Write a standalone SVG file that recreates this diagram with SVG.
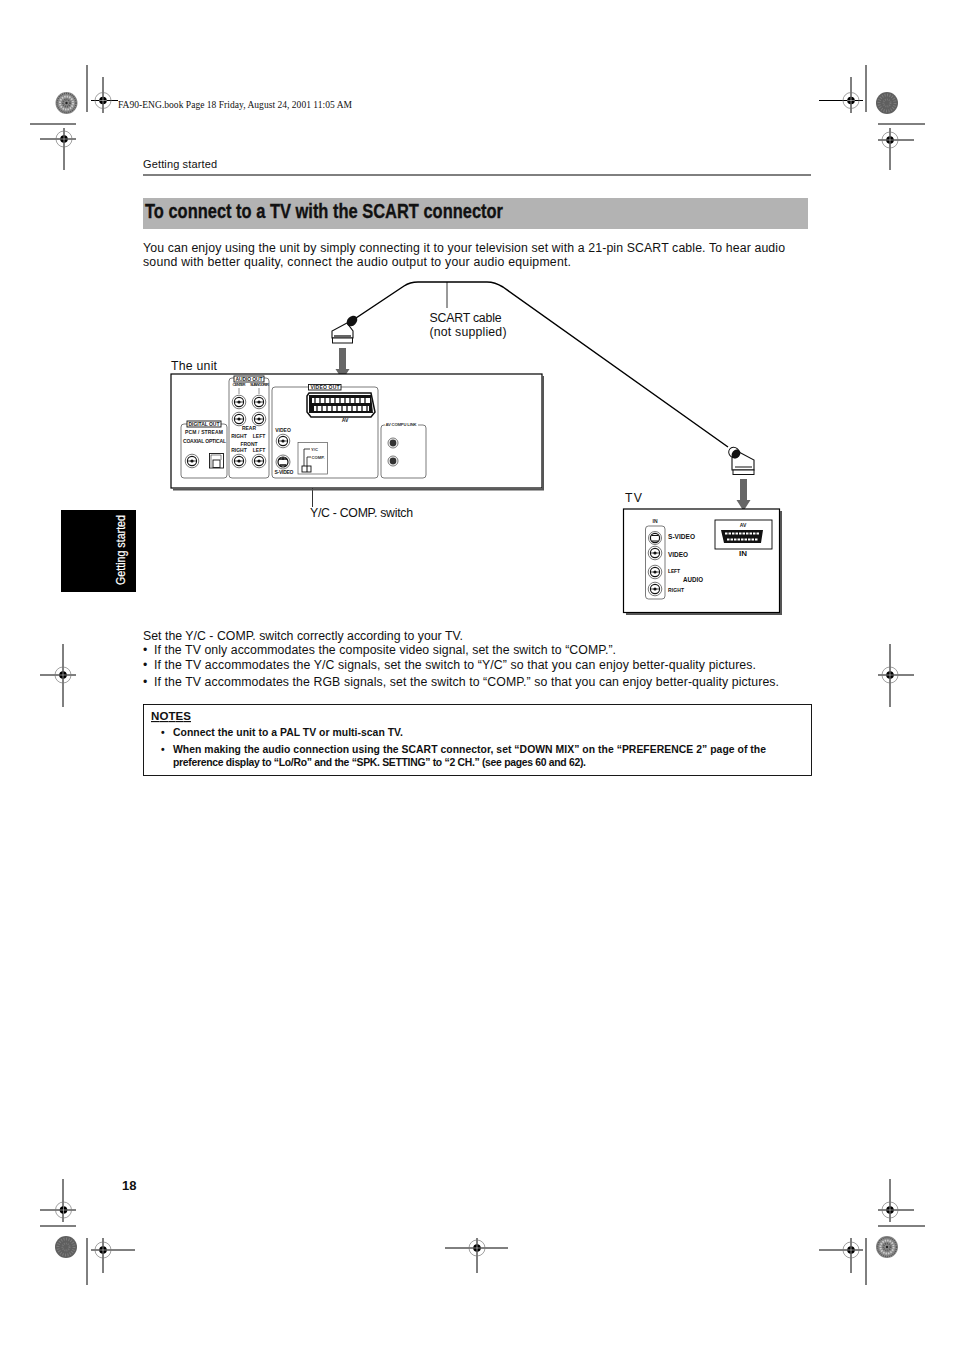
<svg xmlns="http://www.w3.org/2000/svg" xmlns:xlink="http://www.w3.org/1999/xlink" width="954" height="1351" viewBox="0 0 954 1351">
<style>
text{font-family:"Liberation Sans",Arial,sans-serif;fill:#111}
.b{font-size:12.3px}
.n{font-size:10.4px;font-weight:bold}
.t{font-size:5px;font-weight:bold;fill:#222}
.c{font-size:4.200px;font-weight:bold;fill:#333}
.m{text-anchor:middle}
.g{fill:none;stroke:#444;stroke-width:.7}
.k{fill:#fff;stroke:#111;stroke-width:.9}
.cm{stroke:#000;stroke-width:1;fill:none}
</style>
<defs>
<g id="reg"><circle r="8" fill="none" stroke="#777" stroke-width=".7"/><circle r="3.800" fill="#000"/><path d="M-3.800 0H3.800M0-3.800V3.800" stroke="#fff" stroke-width=".5"/></g>
<g id="jack"><circle r="6.800" fill="#fff" stroke="#555" stroke-width=".8"/><circle r="4.600" fill="#fff" stroke="#111" stroke-width="1.100"/><circle r="1.600" fill="#111"/><path d="M-4.400 0H4.400" stroke="#111" stroke-width=".8"/></g>
<g id="arrow"><path d="M-3.500 0H3.500V21H7L0 32L-7 21H-3.500Z" fill="#666"/></g>
<g id="disc-a"><circle r="11" fill="#8a8a8a"/><circle r="9.500" fill="none" stroke="#555" stroke-width="1.500" stroke-dasharray="1 1"/><circle r="6.500" fill="none" stroke="#ccc" stroke-width="2" stroke-dasharray="1.500 1"/><circle r="3.500" fill="none" stroke="#555" stroke-width="2" stroke-dasharray="1 1"/><circle r="1.200" fill="#222"/></g>
<g id="disc-b"><circle r="11" fill="#5f5f5f"/><circle r="8" fill="none" stroke="#7c7c7c" stroke-width="3" stroke-dasharray="1 1.500"/><circle r="3.500" fill="none" stroke="#777" stroke-width="2" stroke-dasharray="1 1"/></g>
</defs>
<rect width="954" height="1351" fill="#fff"/>
<g id="crop-marks">
<path class="cm" d="M87 65V112M91 100.500H118M103 77V113M30 124H76M40 139H76M64 128V170M866 65V112M819 100.500H863M851 77V113M878 124H925M878 140H914M890 128V170M40 675H76M63 644V707M878 675H914M890 644V707M40 1210H76M63 1179V1222M40 1226H76M87 1238V1285M91 1250H135M103 1238V1273M445 1248H508M477 1238V1273M819 1250H863M851 1238V1273M866 1238V1285M878 1210H914M890 1179V1222M878 1226H925"/>
<use xlink:href="#reg" x="103" y="100.500"/><use xlink:href="#reg" x="64" y="139"/><use xlink:href="#reg" x="851" y="100.500"/><use xlink:href="#reg" x="890" y="140"/><use xlink:href="#reg" x="63" y="675"/><use xlink:href="#reg" x="890" y="675"/><use xlink:href="#reg" x="63.500" y="1210"/><use xlink:href="#reg" x="103" y="1250"/><use xlink:href="#reg" x="477" y="1248"/><use xlink:href="#reg" x="851" y="1250"/><use xlink:href="#reg" x="890" y="1210"/>
<use xlink:href="#disc-a" x="66.500" y="103"/><use xlink:href="#disc-b" x="887" y="103"/><use xlink:href="#disc-b" x="66" y="1247"/><use xlink:href="#disc-a" x="887" y="1247"/>
</g>
<g id="page">
<text x="118" y="108" textLength="234" style='font-family:"Liberation Serif",serif;font-size:9.500px'>FA90-ENG.book  Page 18  Friday, August 24, 2001  11:05 AM</text>
<text x="143" y="168" textLength="74" style="font-size:11px">Getting started</text>
<path d="M143 175H811" stroke="#000" stroke-width="1"/>
<rect x="143" y="198" width="665" height="31" fill="#b3b3b3"/>
<text x="145" y="218" style="font-size:20.500px;font-weight:bold;stroke:#111;stroke-width:.35" textLength="358" lengthAdjust="spacingAndGlyphs">To connect to a TV with the SCART connector</text>
<text class="b" x="143" y="252" textLength="642">You can enjoy using the unit by simply connecting it to your television set with a 21-pin SCART cable. To hear audio</text>
<text class="b" x="143" y="266" textLength="428">sound with better quality, connect the audio output to your audio equipment.</text>
<rect x="61" y="510" width="75" height="82" fill="#000"/>
<text transform="translate(125,585) rotate(-90)" style="font-size:12px;fill:#fff;stroke:#fff;stroke-width:.2" textLength="70" lengthAdjust="spacingAndGlyphs">Getting started</text>
<text x="122" y="1190" style="font-size:13px;font-weight:bold">18</text>
</g>
<g id="connectors">
<path d="M356 318L404 286Q410 282 418 282H487Q495 282 503 287L728 447" fill="none" stroke="#000" stroke-width="1.500"/>
<path d="M447 282V308M312.500 474V507" stroke="#000" stroke-width=".8"/>
<use xlink:href="#arrow" x="342.500" y="348"/>
<use xlink:href="#arrow" x="743.500" y="479"/>
<g id="plug-unit">
<path d="M332 338V331L347 323L353 331V338Z" fill="#fff" stroke="#111" stroke-width="1.100"/>
<rect x="332.500" y="338" width="20" height="5" fill="#fff" stroke="#111" stroke-width="1"/>
<path d="M334 336H351" stroke="#666" stroke-width="2"/>
<ellipse cx="352" cy="321" rx="6" ry="4.500" transform="rotate(-45 352 321)" fill="#111"/>
</g>
<g id="plug-tv">
<path d="M732 470V458L737 451L754 460V470Z" fill="#fff" stroke="#111" stroke-width="1.100"/>
<rect x="733" y="470" width="21" height="4.500" fill="#fff" stroke="#111" stroke-width="1"/>
<path d="M735 467H752" stroke="#888" stroke-width="2"/>
<ellipse cx="734" cy="452.500" rx="5.500" ry="5" transform="rotate(40 734 452.500)" fill="#fff" stroke="#111"/>
<ellipse cx="736" cy="454" rx="4" ry="5" transform="rotate(40 736 454)" fill="#111"/>
</g>
</g>
<g id="unit">
<text x="171" y="370" textLength="46" style="font-size:12.300px">The unit</text>
<rect x="171" y="374" width="371" height="114" fill="#fff" stroke="#000" stroke-width="1.200"/>
<path d="M543 376V489.500H173" fill="none" stroke="#555" stroke-width="2"/>
<rect class="g" x="181" y="424" width="46" height="54" rx="3"/><rect class="g" x="229" y="378" width="40" height="100" rx="3"/><rect class="g" x="272" y="387" width="106" height="91" rx="3"/><rect class="g" x="381" y="425" width="45" height="53" rx="3"/>
<rect x="187" y="421" width="34" height="6" class="k"/><text class="t m" x="204" y="426" textLength="31">DIGITAL OUT</text>
<text class="t m" x="204" y="433.500" textLength="38">PCM / STREAM</text><text class="t m" x="204.500" y="442.500" textLength="43">COAXIAL OPTICAL</text>
<use xlink:href="#jack" x="192" y="461"/>
<rect x="209.500" y="453.500" width="14" height="14.500" class="k"/><rect x="213" y="460" width="7" height="7.500" class="k"/><path d="M211 455V467M211 455H221V460" fill="none" stroke="#333" stroke-width=".6"/>
<rect x="234" y="376" width="30" height="6" class="k"/><text class="t m" x="249" y="381" textLength="27">AUDIO OUT</text>
<text class="c m" x="239" y="386" textLength="13">CENTER</text><text class="c m" x="259.500" y="386" textLength="19">SUBWOOFER</text>
<path d="M239 388V394M259 388V394" stroke="#444" stroke-width=".6"/>
<use xlink:href="#jack" x="239" y="402"/><use xlink:href="#jack" x="259" y="402"/><use xlink:href="#jack" x="239" y="419"/><use xlink:href="#jack" x="259" y="419"/>
<text class="t m" x="249" y="430">REAR</text><text class="t m" x="239" y="437.500">RIGHT</text><text class="t m" x="259" y="437.500">LEFT</text>
<text class="t m" x="249" y="445.500">FRONT</text><text class="t m" x="239" y="452">RIGHT</text><text class="t m" x="259" y="452">LEFT</text>
<use xlink:href="#jack" x="239" y="461"/><use xlink:href="#jack" x="259" y="461"/>
<rect x="308.500" y="384.500" width="32.500" height="5.500" class="k"/><text class="t m" x="325" y="389.300" textLength="29">VIDEO OUT</text>
<path d="M309 393H371L375 412L371 417H311L307 412V396Z" fill="#fff" stroke="#111" stroke-width="1.500"/>
<path d="M309 395H371L373 413H309Z" fill="#111"/>
<rect x="312" y="398" width="58" height="5" fill="#fff"/><rect x="314" y="406" width="55" height="5" fill="#fff"/>
<path d="M315 398V403M320 398V403M325 398V403M330 398V403M335 398V403M340 398V403M345 398V403M350 398V403M355 398V403M360 398V403M365 398V403M317 406V411M322 406V411M327 406V411M332 406V411M337 406V411M342 406V411M347 406V411M352 406V411M357 406V411M362 406V411M367 406V411" stroke="#111" stroke-width="1.300"/>
<text class="t m" x="345" y="422">AV</text>
<text class="t m" x="283" y="431.500">VIDEO</text><use xlink:href="#jack" x="283" y="441"/>
<circle cx="283" cy="462" r="7" fill="#fff" stroke="#555" stroke-width=".8"/><circle cx="283" cy="462" r="5" fill="#fff" stroke="#111" stroke-width="1.200"/><path d="M279 459H287M280 465H286M283 457V460" stroke="#111" stroke-width="1.300"/>
<text class="t m" x="284" y="473.500" textLength="19">S-VIDEO</text>
<rect x="298" y="442.500" width="29.500" height="31.500" fill="#fff" stroke="#555" stroke-width=".7"/>
<path d="M304 466V449H310M307 466V457H311" fill="none" stroke="#111" stroke-width=".8"/>
<text class="c" x="311" y="451">Y/C</text><text class="c" x="311.500" y="458.500">COMP.</text>
<rect x="302" y="466" width="9" height="6" class="k"/><path d="M307 466V472" stroke="#111"/>
<rect x="385" y="421" width="33" height="6" fill="#fff"/><text class="c m" x="401" y="426" textLength="31">AV COMPU LINK</text>
<circle cx="393" cy="443" r="5" fill="#fff" stroke="#555" stroke-width=".8"/><circle cx="393" cy="443" r="3.400" fill="#333"/>
<circle cx="393" cy="461" r="5" fill="#fff" stroke="#555" stroke-width=".8"/><circle cx="393" cy="461" r="3.400" fill="#333"/>
</g>
<g id="labels">
<text class="b" x="429.500" y="322" textLength="72">SCART cable</text>
<text class="b" x="429.500" y="336" textLength="77">(not supplied)</text>
<text class="b" x="310" y="517" textLength="103">Y/C - COMP. switch</text>
<text class="b" x="625" y="502" textLength="17">T V</text>
</g>
<g id="tv">
<rect x="623.500" y="509" width="156" height="103.500" fill="#fff" stroke="#000" stroke-width="1.200"/>
<path d="M781 511V614H626" fill="none" stroke="#555" stroke-width="2"/>
<rect x="715" y="520" width="57" height="29" fill="#fff" stroke="#000" stroke-width=".9"/>
<text class="t m" x="743" y="527">AV</text>
<path d="M721 530H763L761 543H724Z" fill="#111"/>
<path d="M725 533.500H760M727 539.500H758" stroke="#fff" stroke-width="2" stroke-dasharray="2.500 1"/>
<text class="m" x="743" y="556" textLength="8" lengthAdjust="spacingAndGlyphs" style="font-size:8px;font-weight:bold">IN</text>
<text class="t m" x="655" y="523">IN</text>
<rect x="645.500" y="526" width="19.500" height="73" rx="3" fill="#fff" stroke="#444" stroke-width=".7"/>
<circle cx="655" cy="538" r="6.500" fill="#fff" stroke="#555" stroke-width=".8"/><circle cx="655" cy="538" r="4.600" fill="#fff" stroke="#111" stroke-width="1.200"/><path d="M651.500 535.500H658.500M652 541H658" stroke="#111" stroke-width="1.200"/>
<use xlink:href="#jack" x="655" y="553"/><use xlink:href="#jack" x="655" y="572"/><use xlink:href="#jack" x="655" y="589"/>
<text x="668" y="538.500" textLength="27" lengthAdjust="spacingAndGlyphs" style="font-size:7px;font-weight:bold">S-VIDEO</text>
<text x="668" y="556.500" textLength="20" lengthAdjust="spacingAndGlyphs" style="font-size:7px;font-weight:bold">VIDEO</text>
<text x="668" y="572.500" textLength="12" style="font-size:5px;font-weight:bold">LEFT</text>
<text x="683" y="581.500" textLength="20" lengthAdjust="spacingAndGlyphs" style="font-size:7px;font-weight:bold">AUDIO</text>
<text x="668" y="591.500" textLength="16" style="font-size:5px;font-weight:bold">RIGHT</text>
</g>
<g id="instructions">
<text class="b" x="143" y="640" textLength="320">Set the Y/C - COMP. switch correctly according to your TV.</text>
<text class="b" x="143" y="654">•</text><text class="b" x="154" y="654" textLength="462">If the TV only accommodates the composite video signal, set the switch to “COMP.”.</text>
<text class="b" x="143" y="669">•</text><text class="b" x="154" y="669" textLength="602">If the TV accommodates the Y/C signals, set the switch to “Y/C” so that you can enjoy better-quality pictures.</text>
<text class="b" x="143" y="686">•</text><text class="b" x="154" y="686" textLength="625">If the TV accommodates the RGB signals, set the switch to “COMP.” so that you can enjoy better-quality pictures.</text>
</g>
<g id="notes">
<rect x="143.500" y="704.500" width="668" height="71" fill="#fff" stroke="#000" stroke-width=".9"/>
<text x="151" y="720" textLength="40" style="font-size:11.500px;font-weight:bold;text-decoration:underline">NOTES</text>
<text class="n" x="161" y="736">•</text><text class="n" x="173" y="736" textLength="230">Connect the unit to a PAL TV or multi-scan TV.</text>
<text class="n" x="161" y="753">•</text><text class="n" x="173" y="753" textLength="593">When making the audio connection using the SCART connector, set “DOWN MIX” on the “PREFERENCE 2” page of the</text>
<text class="n" x="173" y="766" textLength="413">preference display to “Lo/Ro” and the “SPK. SETTING” to “2 CH.” (see pages 60 and 62).</text>
</g>
</svg>
